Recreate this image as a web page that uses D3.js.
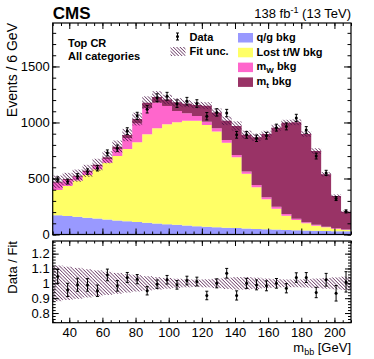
<!DOCTYPE html>
<html lang="en">
<head>
<meta charset="UTF-8" />
<title>Top CR m_bb</title>
<script src="https://cdn.jsdelivr.net/npm/d3@7/dist/d3.min.js"></script>
<style>
  body { margin: 0; background: #fff; }
  svg text { font-family: "Liberation Sans", Arial, sans-serif; fill: #000; }
</style>
</head>
<body>
<div id="chart"></div>
<script>
// bin low edges (6 GeV bins, 30-210 GeV)
const binLow = [30,36,42,48,54,60,66,72,78,84,90,96,102,108,114,120,126,132,138,144,150,156,162,168,174,180,186,192,198,204];
const binWidth = 6;

// background components, events per bin
const qgBkg   = [172,165,158,150,142,134,126,118,111,104,98,92,86,80,74,69,65,61,57,53,50,47,44,41,38,36,34,32,30,28];
const lostBkg = [225,268,323,381,440,507,575,645,712,790,850,892,916,936,942,909,855,759,632,490,371,267,186,127,91,64,45,32,19,12];
const mwBkg   = [65,54,35,27,28,33,63,99,171,235,229,163,101,66,42,29,28,24,21,20,21,18,18,15,12,9,9,6,6,5];
const mtBkg   = [8,8,9,10,12,15,20,26,36,48,51,58,77,86,97,143,142,171,259,327,426,565,706,815,861,789,658,467,289,159];

// observed data and its error
const dataCounts = [492,473,520,562,591,728,771,923,1059,1118,1221,1234,1168,1190,1169,1056,1090,1084,890,890,859,882,954,965,1041,933,700,550,321,206];
const dataErr    = [22,22,23,24,24,27,28,30,32,33,35,35,34,34,34,33,33,33,30,30,29,30,31,31,32,30,26,23,18,14];

// relative post-fit uncertainty per bin
const fitRelUnc = [0.12,0.112,0.104,0.095,0.087,0.078,0.07,0.062,0.055,0.048,0.042,0.036,0.031,0.027,0.025,0.027,0.032,0.038,0.042,0.042,0.038,0.032,0.028,0.026,0.026,0.028,0.032,0.036,0.04,0.045];

const xTickLabels = [40,60,80,100,120,140,160,180,200];
const yTickLabels = [0,500,1000,1500];
const ratioTickLabels = [0.8,0.9,1,1.1,1.2];

const components = ["qg","lost","mw","mt"];
const compColor = {qg:"#9999ff", lost:"#ffff66", mw:"#ff66cc", mt:"#993366"};

const W = 374, H = 359;
const left = 52.7, right = 351;
const top1 = 23, bot1 = 234.5, top2 = 241, bot2 = 322.7;

const svg = d3.select("#chart").append("svg")
  .attr("width", W).attr("height", H);

const defs = svg.append("defs");
const pat = defs.append("pattern")
  .attr("id", "hatch")
  .attr("patternUnits", "userSpaceOnUse")
  .attr("width", 2.4).attr("height", 2.4)
  .attr("patternTransform", "rotate(-45)");
pat.append("line").attr("x1", 0).attr("y1", 0).attr("x2", 0).attr("y2", 2.4)
  .attr("stroke", "#4a1045").attr("stroke-width", 1.25);

const x = d3.scaleLinear().domain([30, 210]).range([left, right]);
const y = d3.scaleLinear().domain([0, 1888]).range([bot1, top1]);
const yR = d3.scaleLinear().domain([0.735, 1.285]).range([bot2, top2]);

const rows = binLow.map((lo, i) => ({
  lo: lo, hi: lo + binWidth,
  qg: qgBkg[i], lost: lostBkg[i], mw: mwBkg[i], mt: mtBkg[i],
  data: dataCounts[i], err: dataErr[i], unc: fitRelUnc[i]
}));
rows.forEach(r => { r.total = r.qg + r.lost + r.mw + r.mt; });

const stack = d3.stack().keys(components)(rows);

const area = d3.area()
  .x(d => x(d.x))
  .y0(d => y(d.y0))
  .y1(d => y(d.y1));

// stacked histogram
svg.append("g").selectAll("path")
  .data(stack)
  .join("path")
  .attr("fill", s => compColor[s.key])
  .attr("d", s => area(s.flatMap(p => [
    {x: p.data.lo, y0: p[0], y1: p[1]},
    {x: p.data.hi, y0: p[0], y1: p[1]}
  ])));

// fit uncertainty band (upper)
svg.append("g").selectAll("rect")
  .data(rows)
  .join("rect")
  .attr("x", d => x(d.lo))
  .attr("width", d => x(d.hi) - x(d.lo))
  .attr("y", d => y(d.total * (1 + d.unc)))
  .attr("height", d => y(d.total * (1 - d.unc)) - y(d.total * (1 + d.unc)))
  .attr("fill", "url(#hatch)");

// fit uncertainty band (ratio)
svg.append("g").selectAll("rect")
  .data(rows)
  .join("rect")
  .attr("x", d => x(d.lo))
  .attr("width", d => x(d.hi) - x(d.lo))
  .attr("y", d => yR(1 + d.unc))
  .attr("height", d => yR(1 - d.unc) - yR(1 + d.unc))
  .attr("fill", "url(#hatch)");

function drawPoints(g, cy, lowF, highF) {
  const pts = g.selectAll("g").data(rows).join("g")
    .attr("transform", d => `translate(${x(d.lo + binWidth / 2)},0)`);
  pts.append("line").attr("x1", 0).attr("x2", 0)
    .attr("y1", d => lowF(d)).attr("y2", d => highF(d))
    .attr("stroke", "#000").attr("stroke-width", 1);
  pts.append("line").attr("x1", -1.5).attr("x2", 1.5)
    .attr("y1", d => lowF(d)).attr("y2", d => lowF(d))
    .attr("stroke", "#000").attr("stroke-width", 1);
  pts.append("line").attr("x1", -1.5).attr("x2", 1.5)
    .attr("y1", d => highF(d)).attr("y2", d => highF(d))
    .attr("stroke", "#000").attr("stroke-width", 1);
  pts.append("circle").attr("cx", 0).attr("cy", d => cy(d)).attr("r", 1.5)
    .attr("fill", "#000");
}

drawPoints(svg.append("g"), d => y(d.data), d => y(d.data - d.err), d => y(d.data + d.err));
drawPoints(svg.append("g"), d => yR(d.data / d.total),
  d => yR((d.data - d.err) / d.total), d => yR((d.data + d.err) / d.total));

// frames
[[top1, bot1], [top2, bot2]].forEach(([t, b]) => {
  svg.append("rect").attr("x", left).attr("y", t)
    .attr("width", right - left).attr("height", b - t)
    .attr("fill", "none").attr("stroke", "#000").attr("stroke-width", 1.2);
});

const xMinor = d3.range(30, 211, 5);

function tickGroup(axis, tx, ty) {
  const g = svg.append("g").attr("transform", `translate(${tx},${ty})`).call(axis);
  g.select(".domain").remove();
  g.selectAll("line").attr("stroke", "#000");
  return g;
}

// x ticks for both panels
[[top1, bot1, 6, 3], [top2, bot2, 5, 2.5]].forEach(([t, b, maj, mn]) => {
  tickGroup(d3.axisBottom(x).tickValues(xMinor).tickSize(-mn).tickFormat(""), 0, b);
  tickGroup(d3.axisTop(x).tickValues(xMinor).tickSize(-mn).tickFormat(""), 0, t);
  tickGroup(d3.axisTop(x).tickValues(xTickLabels).tickSize(-maj).tickFormat(""), 0, t);
});
tickGroup(d3.axisBottom(x).tickValues(xTickLabels).tickSize(-6).tickFormat(""), 0, bot1);
const xAx = tickGroup(d3.axisBottom(x).tickValues(xTickLabels).tickSize(-5).tickPadding(5), 0, bot2);
xAx.selectAll("text").attr("font-size", 13);

// upper y ticks
const yMinor = d3.range(0, 1801, 100);
tickGroup(d3.axisLeft(y).tickValues(yMinor).tickSize(-3.5).tickFormat(""), left, 0);
tickGroup(d3.axisRight(y).tickValues(yMinor).tickSize(-3.5).tickFormat(""), right, 0);
tickGroup(d3.axisRight(y).tickValues(yTickLabels).tickSize(-7).tickFormat(""), right, 0);
const yAx = tickGroup(d3.axisLeft(y).tickValues(yTickLabels).tickSize(-7).tickPadding(3)
  .tickFormat(d3.format("d")), left, 0);
yAx.selectAll("text").attr("font-size", 13);

// ratio y ticks
const rMinor = d3.range(0.74, 1.285, 0.02);
tickGroup(d3.axisLeft(yR).tickValues(rMinor).tickSize(-3).tickFormat(""), left, 0);
tickGroup(d3.axisRight(yR).tickValues(rMinor).tickSize(-3).tickFormat(""), right, 0);
tickGroup(d3.axisRight(yR).tickValues(ratioTickLabels).tickSize(-6).tickFormat(""), right, 0);
const rAx = tickGroup(d3.axisLeft(yR).tickValues(ratioTickLabels).tickSize(-6).tickPadding(3)
  .tickFormat(d => d3.format("")(d)), left, 0);
rAx.selectAll("text").attr("font-size", 13);

// titles
svg.append("text").attr("x", left).attr("y", 19)
  .attr("font-size", 17).attr("font-weight", "bold").text("CMS");
const lumi = svg.append("text").attr("x", right).attr("y", 18)
  .attr("font-size", 13).attr("text-anchor", "end");
lumi.append("tspan").text("138 fb");
lumi.append("tspan").attr("font-size", 9).attr("dy", -5).text("-1");
lumi.append("tspan").attr("dy", 5).text(" (13 TeV)");

svg.append("text").attr("transform", `translate(17,${top1}) rotate(-90)`)
  .attr("text-anchor", "end").attr("font-size", 14).text("Events / 6 GeV");
svg.append("text").attr("transform", `translate(17,${top2}) rotate(-90)`)
  .attr("text-anchor", "end").attr("font-size", 13).text("Data / Fit");

const xt = svg.append("text").attr("x", right).attr("y", 352)
  .attr("font-size", 13).attr("text-anchor", "end");
xt.append("tspan").text("m");
xt.append("tspan").attr("font-size", 9).attr("dy", 3).text("bb");
xt.append("tspan").attr("dy", -3).text(" [GeV]");

// region label
svg.append("text").attr("x", 68).attr("y", 47).attr("font-size", 11)
  .attr("font-weight", "bold").text("Top CR");
svg.append("text").attr("x", 68).attr("y", 60).attr("font-size", 11)
  .attr("font-weight", "bold").text("All categories");

// legend
const leg = svg.append("g").attr("font-size", 11).attr("font-weight", "bold");
// data entry
const ld = leg.append("g").attr("transform", "translate(177.5,36.5)");
ld.append("line").attr("y1", -3.5).attr("y2", 3.5).attr("stroke", "#000");
ld.append("line").attr("x1", -1.5).attr("x2", 1.5).attr("y1", -3.5).attr("y2", -3.5).attr("stroke", "#000");
ld.append("line").attr("x1", -1.5).attr("x2", 1.5).attr("y1", 3.5).attr("y2", 3.5).attr("stroke", "#000");
ld.append("circle").attr("r", 1.5);
leg.append("text").attr("x", 189.5).attr("y", 40.5).text("Data");
leg.append("rect").attr("x", 170.5).attr("y", 47).attr("width", 15).attr("height", 9)
  .attr("fill", "url(#hatch)");
leg.append("text").attr("x", 189.5).attr("y", 55).text("Fit unc.");

const legItems = [
  {key: "qg", label: ["q/g bkg"]},
  {key: "lost", label: ["Lost t/W bkg"]},
  {key: "mw", label: ["m", "W", " bkg"]},
  {key: "mt", label: ["m", "t", " bkg"]}
];
legItems.forEach((it, i) => {
  const yy = 33 + i * 14.8;
  leg.append("rect").attr("x", 238).attr("y", yy).attr("width", 15).attr("height", 9.5)
    .attr("fill", compColor[it.key]);
  const t = leg.append("text").attr("x", 256.5).attr("y", yy + 7.8);
  if (it.label.length === 1) {
    t.text(it.label[0]);
  } else {
    t.append("tspan").text(it.label[0]);
    t.append("tspan").attr("font-size", 8).attr("dy", 2.5).text(it.label[1]);
    t.append("tspan").attr("dy", -2.5).text(it.label[2]);
  }
});
</script>
</body>
</html>
